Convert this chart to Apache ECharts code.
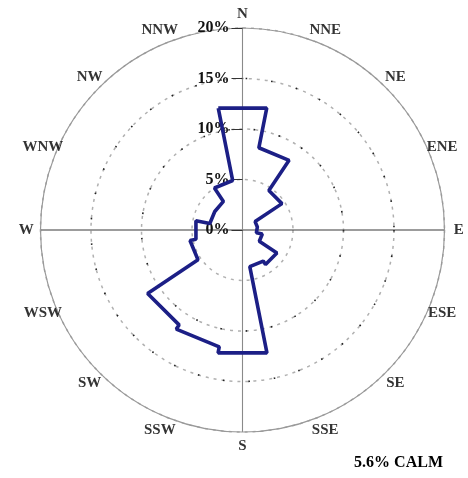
<!DOCTYPE html>
<html>
<head>
<meta charset="utf-8">
<script src="https://cdn.jsdelivr.net/npm/echarts@6/dist/echarts.min.js"></script>
<style>
  html, body { margin: 0; padding: 0; background: #fff; }
  #chart { width: 468px; height: 478px; }
</style>
</head>
<body>
<div id="chart"></div>
<script>
// 16 directions, clockwise from north
var directions = ['N', 'NNE', 'NE', 'ENE', 'E', 'ESE', 'SE', 'SSE',
                  'S', 'SSW', 'SW', 'WSW', 'W', 'WNW', 'NW', 'NNW'];
// frequency (%) per direction
var freqs = [12.3, 8.3, 4.7, 1.5, 1.4, 2.0, 4.1, 3.7,
             12.4, 11.8, 11.3, 5.3, 4.7, 3.3, 3.4, 5.0];
var ringTicks = [0, 5, 10, 15, 20];
var calmText = '5.6% CALM';

var serif = '"Liberation Serif", "DejaVu Serif", serif';
var sector = 360 / directions.length;
var center = [242.5, 230];
var outerR = 202;

// outline: each direction is a flat step spanning its sector
var outline = [];
for (var i = 0; i < directions.length; i++) {
    var c = i * sector;
    outline.push([freqs[i], (c - sector / 2 + 360) % 360]);
    outline.push([freqs[i], c + sector / 2]);
}
outline.push(outline[0]);

// direction labels sit just outside the 20% ring
var labelRadius = 21.4;
var dirLabels = directions.map(function (d, i) {
    return [labelRadius, i * sector, d];
});

var myChart = echarts.init(document.getElementById('chart'));
var option = {
    animation: false,
    title: {
        text: calmText,
        right: 20,
        bottom: 2,
        textStyle: {
            fontFamily: serif,
            fontWeight: 'bold',
            fontSize: 16,
            color: '#000'
        }
    },
    polar: [
        { center: center, radius: outerR },
        { center: center, radius: outerR }
    ],
    angleAxis: [
        {
            polarIndex: 0,
            type: 'value',
            min: 0,
            max: 360,
            interval: 90,
            startAngle: 90,
            clockwise: true,
            axisLine: { lineStyle: { color: '#999', width: 1.2 } },
            axisTick: { show: false },
            axisLabel: { show: false },
            splitLine: {
                show: true,
                lineStyle: { color: ['#8a8a8a', '#3a3a3a'], width: 1.1 }
            }
        },
        {
            polarIndex: 1,
            type: 'value',
            min: 0,
            max: 360,
            startAngle: 90,
            axisLine: { show: false },
            axisTick: { show: false },
            axisLabel: { show: false },
            splitLine: { show: false }
        }
    ],
    radiusAxis: [
        {
            polarIndex: 0,
            type: 'value',
            min: ringTicks[0],
            max: ringTicks[ringTicks.length - 1],
            interval: 5,
            axisLine: { show: true, lineStyle: { color: '#8a8a8a' } },
            axisTick: { show: true, length: 11, lineStyle: { color: '#333' } },
            axisLabel: {
                margin: 13,
                formatter: '{value}%',
                fontFamily: serif,
                fontWeight: 'bold',
                fontSize: 16,
                color: '#111'
            },
            splitLine: {
                show: true,
                lineStyle: { color: '#b0b0b0', type: [3, 5], width: 1.5 }
            }
        },
        {
            // sparse dark dots on the 10% and 15% rings
            polarIndex: 1,
            type: 'value',
            min: ringTicks[0],
            max: ringTicks[ringTicks.length - 1],
            interval: 5,
            axisLine: { show: false },
            axisTick: { show: false },
            axisLabel: { show: false },
            splitLine: {
                show: true,
                lineStyle: {
                    color: ['none', 'none', '#222', '#222', 'none'],
                    type: [1.6, 24],
                    width: 1.6
                }
            }
        }
    ],
    series: [
        {
            name: 'wind',
            type: 'line',
            coordinateSystem: 'polar',
            polarIndex: 0,
            data: outline,
            symbol: 'none',
            clip: false,
            lineStyle: { color: '#1c1f86', width: 3.6 },
            z: 5
        },
        {
            name: 'labels',
            type: 'scatter',
            coordinateSystem: 'polar',
            polarIndex: 0,
            data: dirLabels,
            symbolSize: 0,
            clip: false,
            silent: true,
            label: {
                show: true,
                position: 'inside',
                formatter: function (p) { return p.data[2]; },
                fontFamily: serif,
                fontWeight: 'bold',
                fontSize: 15,
                color: '#000'
            }
        }
    ]
};
myChart.setOption(option);
</script>
</body>
</html>
